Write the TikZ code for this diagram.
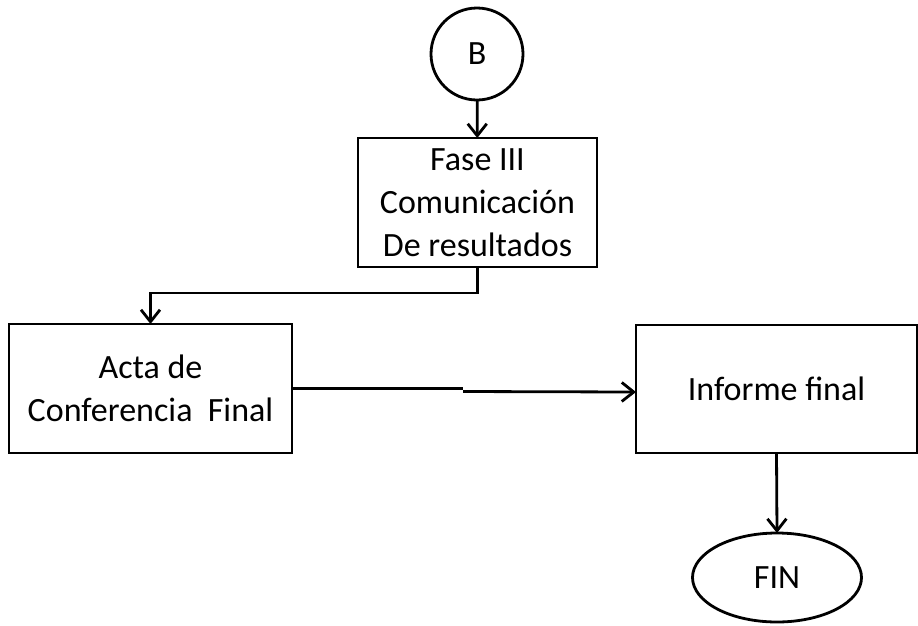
\documentclass[tikz,border=0pt]{standalone}
\usepackage{fontspec}
\setmainfont{Carlito}
\usetikzlibrary{arrows.meta,shapes.geometric}
\begin{document}
\begin{tikzpicture}[x=1pt,y=-1pt,
  lbl/.style={font=\fontsize{34}{43}\selectfont},
  box/.style={lbl,draw,line width=2.8pt,align=center,inner sep=0pt,outer sep=0pt},
  flow/.style={line width=2.8pt,-{Straight Barb[length=12pt,width=19pt,line width=2.8pt]}}]
\useasboundingbox (0,0) rectangle (918,625);

% terminals
\node[box,circle,minimum size=92pt] (b) at (477,54) {B};
\node[box,ellipse,minimum width=169pt,minimum height=89pt] (fin) at (777,577.5) {FIN};

% process boxes
\node[box,minimum width=239pt,minimum height=129pt] (fase) at (477.5,202.5)
  {Fase III\\Comunicación\\De resultados};
\node[box,minimum width=283pt,minimum height=129pt] (acta) at (150.5,388.5)
  {Acta de\\Conferencia\ \ Final};
\node[box,minimum width=281pt,minimum height=128pt] (inf) at (776.5,389)
  {Informe final};

% connectors
\draw[flow] (b) -- (fase);
\draw[flow] (fase.south) -- ++(0,26) -| (acta.north);
\coordinate (step) at ([xshift=171pt]acta.east);
\draw[line width=2.8pt] (acta.east) -- (step);
\draw[flow] ([yshift=-3pt]step) -- ([yshift=-3pt]inf.west);
\draw[flow] (inf.south) -- (fin.north);
\end{tikzpicture}
\end{document}
